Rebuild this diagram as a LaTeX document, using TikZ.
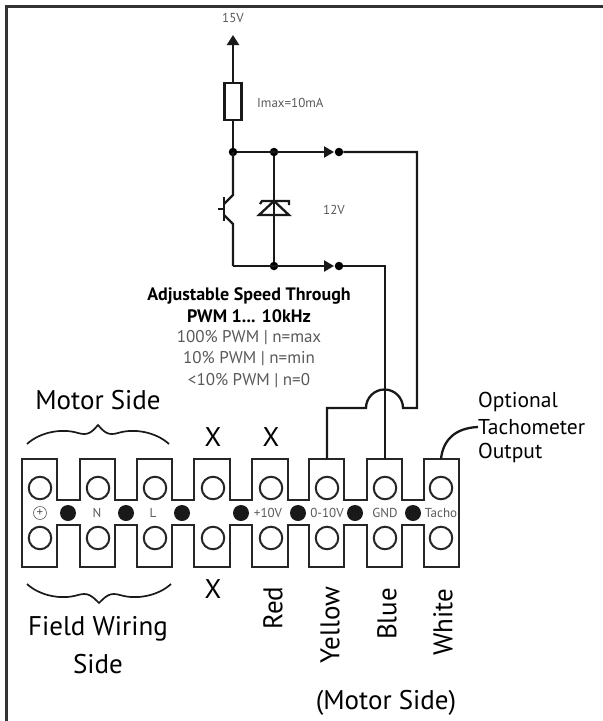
\documentclass[tikz,border=0pt]{standalone}
\usepackage{fontspec}
\setmainfont{PT Sans}
\usetikzlibrary{arrows.meta, calc}
\definecolor{labelgray}{gray}{0.35}
\tikzset{
	wire/.style={line width=2.3pt, draw=black!90},
	block/.style={line width=2.2pt, draw=black!85, line join=miter},
	hole/.style={circle, draw=black!85, line width=2pt, minimum size=22.5pt, inner sep=0pt},
	pin/.style={circle, fill=black!90, minimum size=16pt, inner sep=0pt},
	junct/.style={circle, fill=black, minimum size=8.5pt, inner sep=0pt},
	tinylabel/.style={text=labelgray, font=\fontsize{13}{15}\selectfont, inner sep=0pt},
	pwmlabel/.style={text=labelgray, font=\fontsize{17}{20}\selectfont, inner sep=0pt},
	titlelabel/.style={font=\fontsize{18}{20}\selectfont\bfseries, inner sep=0pt},
	biglabel/.style={font=\fontsize{27}{29}\selectfont, inner sep=0pt},
	midlabel/.style={font=\fontsize{21.5}{24}\selectfont, inner sep=0pt},
	bracecurve/.style={line width=1.7pt, black!90},
}
\begin{document}
\begin{tikzpicture}[x=1pt, y=-1pt]
		\useasboundingbox (0,0) rectangle (603,721);
		\draw[line width=3pt, black!80] (6.5,721) -- (6.5,6.5) -- (603,6.5);

		% terminal block outline
		\draw[block] (22,500) -- (22,459) -- (57,459) -- (57,500) -- (80,500) -- (80,459) -- (115,459) -- (115,500)
			-- (137,500) -- (137,459) -- (172,459) -- (172,500) -- (194,500) -- (194,459) -- (230,459) -- (230,500)
			-- (252,500) -- (252,459) -- (288,459) -- (288,500) -- (309,500) -- (309,459) -- (344,459) -- (344,500)
			-- (367,500) -- (367,459) -- (402,459) -- (402,500) -- (424,500) -- (424,459) -- (459,459)
			-- (459,567) -- (424,567) -- (424,525) -- (402,525) -- (402,567) -- (367,567) -- (367,525) -- (344,525)
			-- (344,567) -- (309,567) -- (309,525) -- (288,525) -- (288,567) -- (252,567) -- (252,525) -- (230,525)
			-- (230,567) -- (194,567) -- (194,525) -- (172,525) -- (172,567) -- (137,567) -- (137,525) -- (115,525)
			-- (115,567) -- (80,567) -- (80,525) -- (57,525) -- (57,567) -- (22,567) -- cycle;
		\foreach \x/\n in {40/1, 98/2, 155/3, 213/4, 271/5, 327/6, 385/7, 441/8} {
			\node[hole] (top\n) at (\x,488) {};
			\node[hole] (bot\n) at (\x,538) {};
		}
		\foreach \x/\n in {68/1, 126/2, 182/3, 241/4, 298/5, 355/6, 413/7} {
			\node[pin] (pin\n) at (\x,513) {};
		}
		\node[tinylabel, circle, draw=labelgray, line width=0.6pt, minimum size=13pt] (tplus) at (40,513) {+};
		\node[tinylabel] (tN) at (97,513) {N};
		\node[tinylabel] (tL) at (153,513) {L};
		\node[tinylabel] (tten) at (268,513) {+10V};
		\node[tinylabel] (tsig) at (327,513) {0-10V};
		\node[tinylabel] (tgnd) at (385,513) {GND};
		\node[tinylabel] (ttacho) at (441,513) {Tacho};

		% supply and resistor
		\coordinate (Vin) at (233,35);
		\coordinate (Top) at (233,152);
		\coordinate (Low) at (233,266);
		\node[tinylabel] (vlabel) at (233,18) {15V};
		\node[draw, wire, fill=white, minimum width=17pt, minimum height=37pt, inner sep=0pt] (R) at (233,101.5) {};
		\draw[wire, -{Triangle[width=12pt,length=10pt]}] (R.north) -- (Vin);
		\draw[wire] (R.south) -- (Top);
		\node[tinylabel, anchor=west] (imax) at (257,103) {Imax=10mA};

		% rails
		\node[junct] (J1) at (Top) {};
		\node[junct] (J2) at (274,152) {};
		\node[junct] (J3) at (274,266) {};
		\node[junct] (D1) at (339,152) {};
		\node[junct] (D2) at (339,266) {};
		\draw[wire, -{Triangle[width=11pt,length=10pt]}] (J1) -- (334,152);
		\draw[wire, -{Triangle[width=11pt,length=10pt]}] (Low) -- (334,266);
		\draw[wire] (J2) -- (J3);

		% transistor
		\draw[wire] (Top) -- (233,195) -- (224,204);
		\draw[wire] (Low) -- (233,224) -- (224,215);
		\draw[wire] (224,197) -- (224,221);
		\draw[wire] (218,209) -- (224,209);

		% zener
		\draw[wire] (259,215) -- (289,215) -- (274,201) -- cycle;
		\draw[wire] (260,204) -- (262,201) -- (289,201) -- (289,205);
		\node[tinylabel] (zlabel) at (334,210) {12V};

		% wires to block
		\draw[wire] (D1) -- (417,152) -- (417,408) -- (403,408) arc[start angle=0, end angle=-180, radius=18.5] -- (327,408) -- (327,459);
		\draw[wire] (D2) -- (385,266) -- (385,459);

		% middle text
		\node[titlelabel] (title1) at (249,296) {Adjustable Speed Through};
		\node[titlelabel] (title2) at (249,316) {PWM 1... 10kHz};
		\node[pwmlabel] (pwm1) at (249,338) {100\% PWM | n=max};
		\node[pwmlabel] (pwm2) at (249,359) {10\% PWM | n=min};
		\node[pwmlabel] (pwm3) at (249,381) {<10\% PWM | n=0};

		% block side labels
		\node[biglabel] (motor) at (98,400) {Motor Side};
		\draw[bracecurve] (27,444) .. controls (40,432) and (62,428) .. (78,433) .. controls (88,436) and (92,432) .. (98,425)
			.. controls (104,432) and (108,436) .. (118,433) .. controls (134,428) and (156,432) .. (169,444);
		\draw[bracecurve] (27,584) .. controls (40,596) and (62,600) .. (78,595) .. controls (88,592) and (92,596) .. (99,603)
			.. controls (106,596) and (110,592) .. (120,595) .. controls (136,600) and (158,596) .. (171,584);
		\node[biglabel] (field1) at (98,629) {Field Wiring};
		\node[biglabel] (field2) at (98,664) {Side};
		\node[biglabel] (x1) at (213,437) {X};
		\node[biglabel] (x2) at (271,437) {X};
		\node[biglabel] (x3) at (213,589) {X};
		\node[biglabel, rotate=90] (red) at (273,608) {Red};
		\node[biglabel, rotate=90] (yellow) at (330,625) {Yellow};
		\node[biglabel, rotate=90] (blue) at (387,614) {Blue};
		\node[biglabel, rotate=90] (white) at (443,622) {White};
		\node[biglabel] (motor2) at (386,703) {(Motor Side)};

		\node[midlabel, anchor=west] (opt1) at (478,402) {Optional};
		\node[midlabel, anchor=west] (opt2) at (478,427) {Tachometer};
		\node[midlabel, anchor=west] (opt3) at (478,453) {Output};
		\draw[wire] (441,459) .. controls (443,440) and (455,428) .. (opt2.west);
\end{tikzpicture}
\end{document}
